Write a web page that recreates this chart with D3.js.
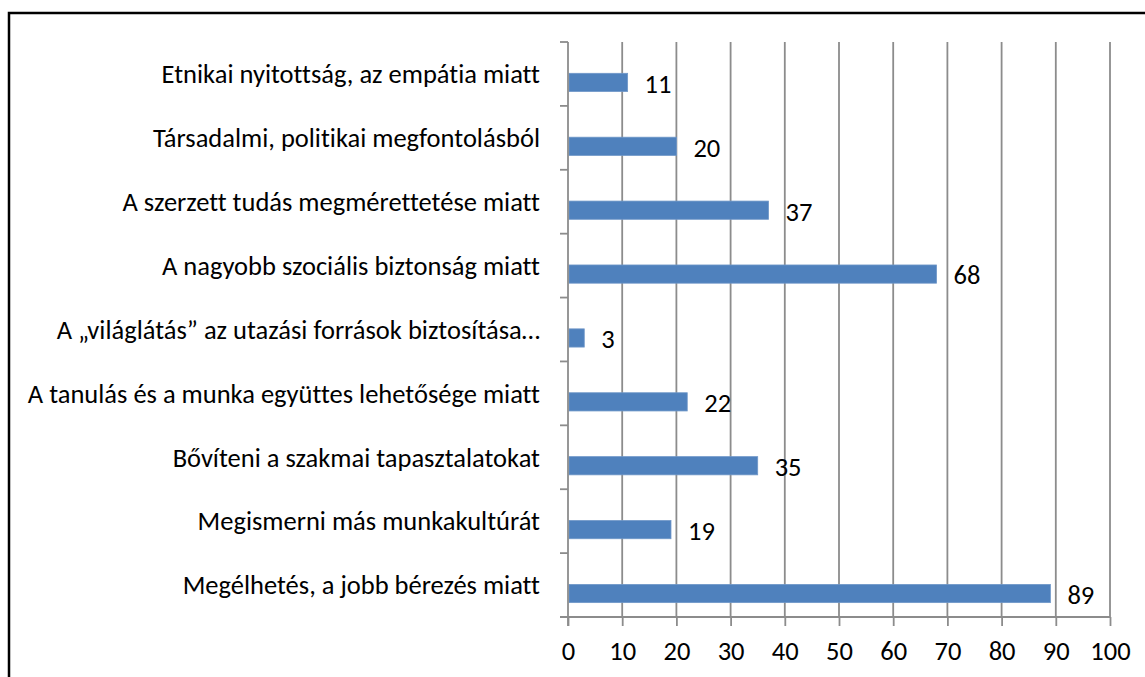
<!DOCTYPE html>
<html>
<head>
<meta charset="utf-8">
<script src="https://cdn.jsdelivr.net/npm/d3@7"></script>
<style>
    body { margin: 0; background: #fff; }
    svg text { font-family: Calibri, Carlito, Lato, sans-serif; fill: #000; font-variant-ligatures: none; }
</style>
</head>
<body>
<div id="chart"></div>
<script>
// categories, top to bottom
const categories = [
    "Etnikai nyitottság, az empátia miatt",
    "Társadalmi, politikai megfontolásból",
    "A szerzett tudás megmérettetése miatt",
    "A nagyobb szociális biztonság miatt",
    "A „világlátás” az utazási források biztosítása…",
    "A tanulás és a munka együttes lehetősége miatt",
    "Bővíteni a szakmai tapasztalatokat",
    "Megismerni más munkakultúrát",
    "Megélhetés, a jobb bérezés miatt"
];
const values = [11, 20, 37, 68, 3, 22, 35, 19, 89];
const xTicks = [0, 10, 20, 30, 40, 50, 60, 70, 80, 90, 100];

const W = 1145, H = 677;
const fontSize = "26.5px";
const margin = { top: 42, left: 568, right: 35, bottom: 60 },
    width = 1110 - margin.left,
    height = 617 - margin.top;

const svg = d3.select("#chart").append("svg")
    .attr("width", W)
    .attr("height", H);

// outer frame
svg.append("rect")
    .attr("x", 9).attr("y", 13)
    .attr("width", W + 20).attr("height", H + 20)
    .attr("fill", "none")
    .attr("stroke", "#000")
    .attr("stroke-width", 2.5);

const g = svg.append("g")
    .attr("transform", "translate(" + margin.left + "," + margin.top + ")");

const x = d3.scaleLinear().domain([0, 100]).range([0, width]);
const y = d3.scaleBand().domain(categories).range([0, height]);

// vertical gridlines
g.append("g")
    .selectAll("line")
    .data(xTicks.slice(1))
    .join("line")
    .attr("x1", d => x(d)).attr("x2", d => x(d))
    .attr("y1", 0).attr("y2", height)
    .attr("stroke", "#8c8c8c")
    .attr("stroke-width", 1.8);

// bars
const bw = y.bandwidth();
g.append("g")
    .selectAll("rect")
    .data(values)
    .join("rect")
    .attr("x", x(0) + 1)
    .attr("y", (d, i) => y(categories[i]) + bw * 0.49)
    .attr("width", d => x(d) - x(0) - 1)
    .attr("height", bw * 0.285)
    .attr("fill", "#4f81bd")
    .attr("stroke", "#6f97c8")
    .attr("stroke-width", 0.8);

// value labels
g.append("g")
    .selectAll("text")
    .data(values)
    .join("text")
    .attr("x", d => x(d) + 17)
    .attr("y", (d, i) => y(categories[i]) + bw * 0.65)
    .attr("dy", "0.35em")
    .style("font-size", fontSize)
    .text(d => d);

// y axis: line, ticks between categories, labels
const yAxis = g.append("g");
yAxis.append("line")
    .attr("x1", 0).attr("x2", 0)
    .attr("y1", 0).attr("y2", height + 9)
    .attr("stroke", "#8c8c8c")
    .attr("stroke-width", 1.8);
yAxis.selectAll("line.tick")
    .data(d3.range(categories.length + 1))
    .join("line")
    .attr("class", "tick")
    .attr("x1", -8).attr("x2", 0)
    .attr("y1", i => i * bw).attr("y2", i => i * bw)
    .attr("stroke", "#8c8c8c")
    .attr("stroke-width", 1.8);
yAxis.selectAll("text")
    .data(categories)
    .join("text")
    .attr("x", -28)
    .attr("y", d => y(d) + bw / 2)
    .attr("dy", "0.35em")
    .attr("text-anchor", "end")
    .style("font-size", fontSize)
    .text(d => d);

// x axis
const xAxis = g.append("g")
    .attr("transform", "translate(0," + height + ")")
    .call(d3.axisBottom(x).tickValues(xTicks).tickSize(9).tickPadding(15).tickSizeOuter(0));
xAxis.select(".domain")
    .attr("d", "M-8,0H" + width)
    .attr("stroke", "#8c8c8c")
    .attr("stroke-width", 1.8);
xAxis.selectAll(".tick line")
    .attr("stroke", "#8c8c8c")
    .attr("stroke-width", 1.8);
xAxis.selectAll(".tick text")
    .style("font-size", fontSize)
    .attr("fill", "#000");
</script>
</body>
</html>
